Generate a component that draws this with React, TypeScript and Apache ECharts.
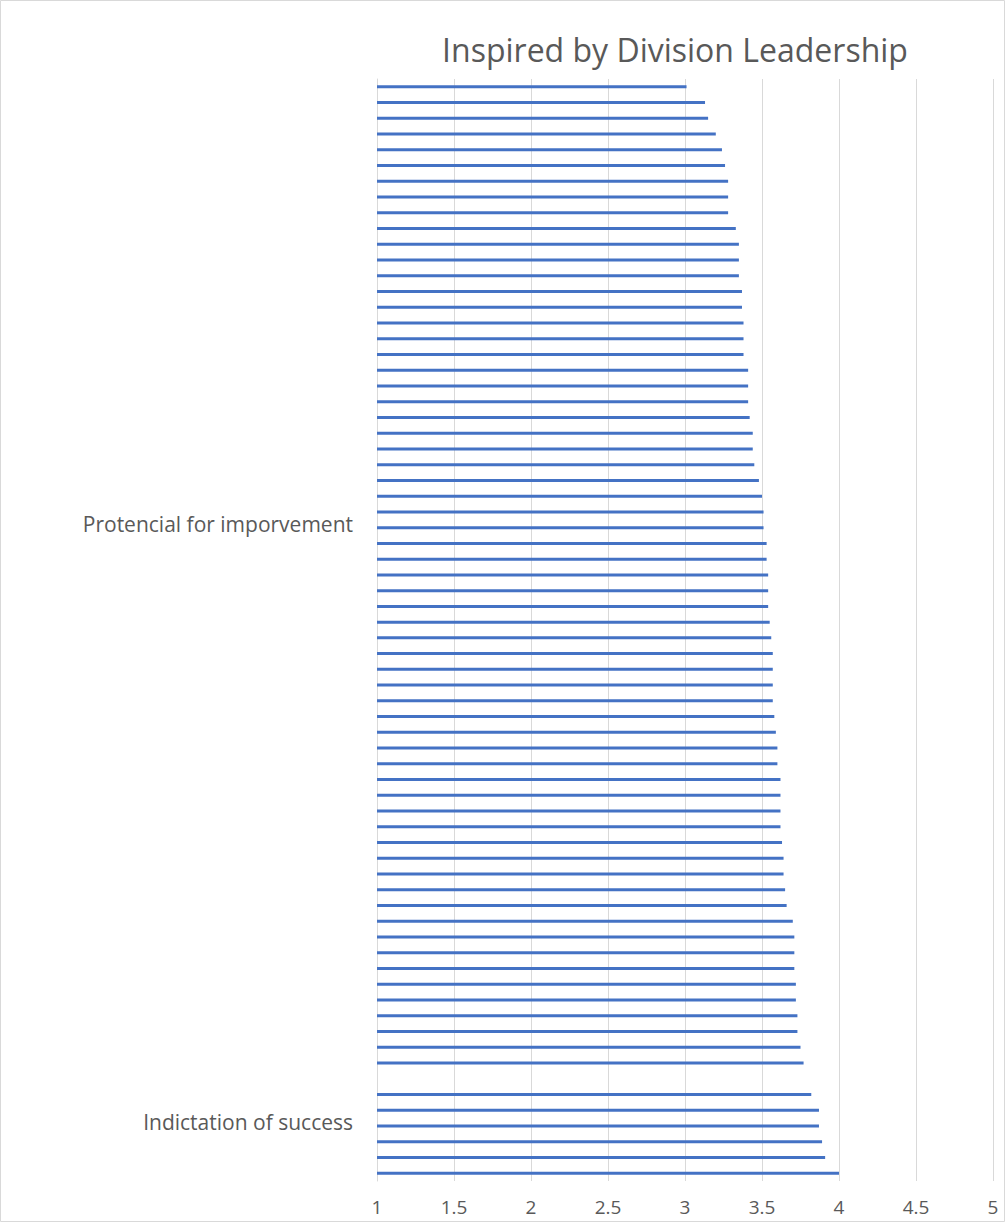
import React, { useEffect, useRef } from "react";
import * as echarts from "echarts";

const TITLE = "Inspired by Division Leadership";

// Category labels, top to bottom ("" = unlabeled row)
const LABELED_ROWS: { [k: number]: string } = {
  28: "Protencial for imporvement",
  66: "Indictation of success",
};

// Bar values, top to bottom (null = empty row)
const VALUES: (number | null)[] = [
  3.01, 3.13, 3.15, 3.2, 3.24, 3.26, 3.28, 3.28, 3.28, 3.33,
  3.35, 3.35, 3.35, 3.37, 3.37, 3.38, 3.38, 3.38, 3.41, 3.41,
  3.41, 3.42, 3.44, 3.44, 3.45, 3.48, 3.5, 3.51, 3.51, 3.53,
  3.53, 3.54, 3.54, 3.54, 3.55, 3.56, 3.57, 3.57, 3.57, 3.57,
  3.58, 3.59, 3.6, 3.6, 3.62, 3.62, 3.62, 3.62, 3.63, 3.64,
  3.64, 3.65, 3.66, 3.7, 3.71, 3.71, 3.71, 3.72, 3.72, 3.73,
  3.73, 3.75, 3.77, null, 3.82, 3.87, 3.87, 3.89, 3.91, 4.0,
];

const CATEGORIES: string[] = VALUES.map((_, i) => LABELED_ROWS[i] || "");

const X_MIN = 1;
const X_MAX = 5;
const X_STEP = 0.5;

const FONT = "'Open Sans', 'Noto Sans', sans-serif";

export default function App() {
  const ref = useRef<HTMLDivElement>(null);
  useEffect(() => {
    if (!ref.current) return;
    const chart = echarts.init(ref.current, undefined, { renderer: "svg" });
    chart.setOption({
      animation: false,
      backgroundColor: "#ffffff",
      title: {
        text: TITLE,
        left: 670,
        top: 28,
        textAlign: "center",
        textStyle: {
          fontFamily: FONT,
          fontSize: 32,
          fontWeight: "normal",
          color: "#595959",
        },
      },
      graphic: [
        {
          type: "rect",
          shape: { x: 0.5, y: 0.5, width: 1004, height: 1221 },
          style: { fill: "none", stroke: "#d9d9d9", lineWidth: 1 },
          silent: true,
        },
      ],
      grid: { left: 377, right: 13, top: 79, bottom: 42, containLabel: false },
      xAxis: {
        type: "value",
        min: X_MIN,
        max: X_MAX,
        interval: X_STEP,
        axisLine: { show: false },
        axisTick: { show: false },
        splitLine: { show: true, lineStyle: { color: "#d9d9d9", width: 1 } },
        axisLabel: {
          fontFamily: FONT,
          fontSize: 19,
          color: "#595959",
          margin: 16,
        },
      },
      yAxis: {
        type: "category",
        inverse: true,
        data: CATEGORIES,
        axisLine: { show: true, lineStyle: { color: "#d9d9d9", width: 1 } },
        axisTick: { show: false },
        splitLine: { show: false },
        axisLabel: {
          interval: 0,
          margin: 24,
          formatter: (v: string) => (v ? "{c|" + v + "}" : ""),
          rich: {
            c: {
              fontFamily: FONT,
              fontSize: 21,
              color: "#595959",
              padding: [0, 0, 8, 0],
            },
          },
        },
      },
      series: [
        {
          type: "bar",
          data: VALUES,
          barWidth: 3,
          itemStyle: { color: "#4472C4" },
        },
      ],
    });
    return () => chart.dispose();
  }, []);
  return (
    <div
      ref={ref}
      style={{ position: "absolute", left: 0, top: 0, width: 1006, height: 1223 }}
    />
  );
}
